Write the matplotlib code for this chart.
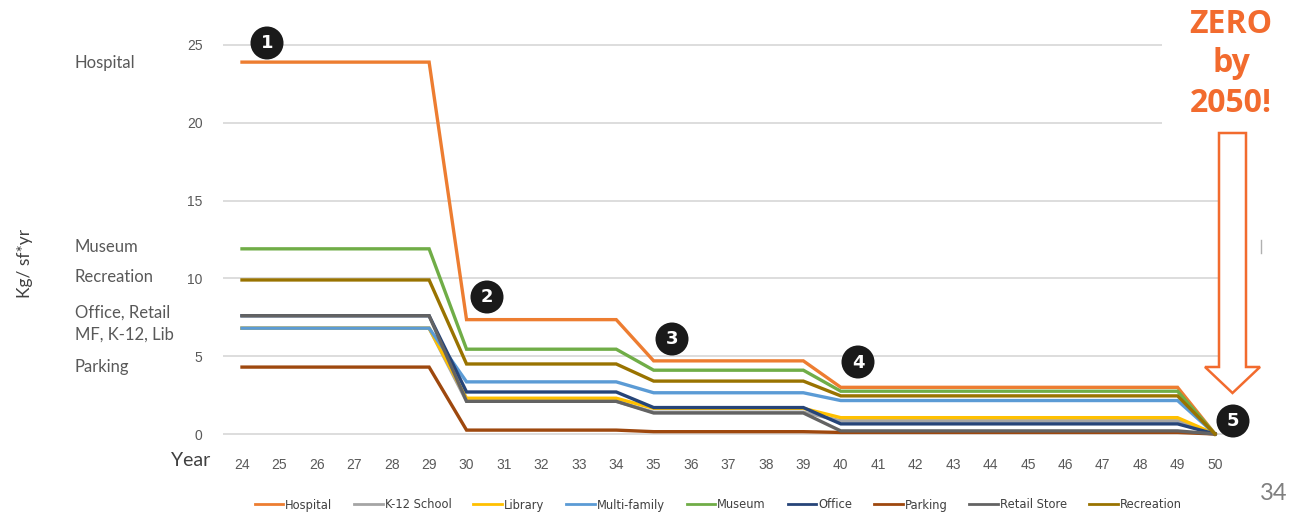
import matplotlib
matplotlib.use("Agg")
import matplotlib.pyplot as plt
from matplotlib.patches import Polygon, Rectangle, Circle
from matplotlib.lines import Line2D

# ---- data -------------------------------------------------------------
years = list(range(24, 51))
year_labels = [str(y) for y in years]

hospital = [23.9, 23.9, 23.9, 23.9, 23.9, 23.9,
            7.35, 7.35, 7.35, 7.35, 7.35,
            4.7, 4.7, 4.7, 4.7, 4.7,
            3.0, 3.0, 3.0, 3.0, 3.0, 3.0, 3.0, 3.0, 3.0, 3.0,
            0.0]
k12_school = [6.8, 6.8, 6.8, 6.8, 6.8, 6.8,
              2.1, 2.1, 2.1, 2.1, 2.1,
              1.4, 1.4, 1.4, 1.4, 1.4,
              0.85, 0.85, 0.85, 0.85, 0.85, 0.85, 0.85, 0.85, 0.85, 0.85,
              0.0]
library = [6.8, 6.8, 6.8, 6.8, 6.8, 6.8,
           2.3, 2.3, 2.3, 2.3, 2.3,
           1.65, 1.65, 1.65, 1.65, 1.65,
           1.05, 1.05, 1.05, 1.05, 1.05, 1.05, 1.05, 1.05, 1.05, 1.05,
           0.0]
multi_family = [6.8, 6.8, 6.8, 6.8, 6.8, 6.8,
                3.35, 3.35, 3.35, 3.35, 3.35,
                2.65, 2.65, 2.65, 2.65, 2.65,
                2.15, 2.15, 2.15, 2.15, 2.15, 2.15, 2.15, 2.15, 2.15, 2.15,
                0.0]
museum = [11.9, 11.9, 11.9, 11.9, 11.9, 11.9,
          5.45, 5.45, 5.45, 5.45, 5.45,
          4.1, 4.1, 4.1, 4.1, 4.1,
          2.75, 2.75, 2.75, 2.75, 2.75, 2.75, 2.75, 2.75, 2.75, 2.75,
          0.0]
office = [7.6, 7.6, 7.6, 7.6, 7.6, 7.6,
          2.7, 2.7, 2.7, 2.7, 2.7,
          1.7, 1.7, 1.7, 1.7, 1.7,
          0.65, 0.65, 0.65, 0.65, 0.65, 0.65, 0.65, 0.65, 0.65, 0.65,
          0.0]
parking = [4.3, 4.3, 4.3, 4.3, 4.3, 4.3,
           0.25, 0.25, 0.25, 0.25, 0.25,
           0.15, 0.15, 0.15, 0.15, 0.15,
           0.1, 0.1, 0.1, 0.1, 0.1, 0.1, 0.1, 0.1, 0.1, 0.1,
           0.0]
retail_store = [7.6, 7.6, 7.6, 7.6, 7.6, 7.6,
                2.1, 2.1, 2.1, 2.1, 2.1,
                1.35, 1.35, 1.35, 1.35, 1.35,
                0.2, 0.2, 0.2, 0.2, 0.2, 0.2, 0.2, 0.2, 0.2, 0.2,
                0.0]
recreation = [9.9, 9.9, 9.9, 9.9, 9.9, 9.9,
              4.5, 4.5, 4.5, 4.5, 4.5,
              3.4, 3.4, 3.4, 3.4, 3.4,
              2.45, 2.45, 2.45, 2.45, 2.45, 2.45, 2.45, 2.45, 2.45, 2.45,
              0.0]

series_names = ["Hospital", "K-12 School", "Library", "Multi-family", "Museum",
                "Office", "Parking", "Retail Store", "Recreation"]
series_values = [hospital, k12_school, library, multi_family, museum,
                 office, parking, retail_store, recreation]
series_colors = ["#ED7D31", "#A5A5A5", "#FFC000", "#5B9BD5", "#70AD47",
                 "#264478", "#9E480E", "#636363", "#997300"]

y_ticks = [0, 5, 10, 15, 20, 25]

side_labels = ["Hospital", "Museum", "Recreation", "Office, Retail",
               "MF, K-12, Lib", "Parking"]
step_numbers = ["1", "2", "3", "4", "5"]

# ---- figure -----------------------------------------------------------
W, H = 1291, 512
fig = plt.figure(figsize=(W / 100, H / 100), dpi=100)
fig.patch.set_facecolor("white")

# plot area: 24 -> x=242px, 50 -> x=1215px ; 0 -> y=434px, 25 -> y=45px
px_per_year = (1215 - 242) / 26
px_per_unit = (434 - 45) / 25
x0, x1 = 23.5, 50.5
y0, y1 = -0.5, 25.5
left_px = 242 - (24 - x0) * px_per_year
right_px = 1215 + (x1 - 50) * px_per_year
bottom_px = 434 + (0 - y0) * px_per_unit
top_px = 45 - (y1 - 25) * px_per_unit
ax = fig.add_axes([left_px / W, 1 - bottom_px / H,
                   (right_px - left_px) / W, (bottom_px - top_px) / H])

for name, vals, col in zip(series_names, series_values, series_colors):
    ax.plot(years, vals, color=col, lw=2.4, label=name,
            solid_joinstyle="miter", zorder=3)

ax.set_xlim(x0, x1)
ax.set_ylim(y0, y1)
ax.set_xticks(years)
ax.set_xticklabels(year_labels)
ax.set_yticks(y_ticks)
ax.set_yticklabels([str(t) for t in y_ticks])
ax.tick_params(axis="both", length=0, colors="#595959")
ax.tick_params(axis="x", labelsize=10, pad=12)
ax.tick_params(axis="y", labelsize=10, pad=15)
for lab in ax.get_xticklabels() + ax.get_yticklabels():
    lab.set_fontfamily("Liberation Sans")
for t in y_ticks:
    ax.axhline(t, color="#DADADA", lw=1.3, zorder=1)
for s in ax.spines.values():
    s.set_visible(False)
ax.patch.set_alpha(0)

# ---- overlay in pixel coordinates for annotations ----------------------
ov = fig.add_axes([0, 0, 1, 1], zorder=5)
ov.set_xlim(0, W)
ov.set_ylim(H, 0)
ov.axis("off")

orange = "#F26B2E"
text_gray = "#595959"

# side category labels
side_y = [63, 247, 277, 313, 335, 367]
for lab, yy in zip(side_labels, side_y):
    ov.text(75, yy, lab, fontsize=12, family="Lato", color=text_gray,
            ha="left", va="center")

ov.text(25, 263, "Kg/ sf*yr", fontsize=12.5, family="Lato", color="#404040",
        rotation=90, ha="center", va="center")
ov.text(191, 460, "Year", fontsize=14, family="Lato", color="#404040",
        ha="center", va="center")

# numbered step markers
step_xy = [(267, 43), (487, 297), (672, 339), (858, 362), (1233, 421)]
for num, (cx, cy) in zip(step_numbers, step_xy):
    ov.add_patch(Circle((cx, cy), 16.5, facecolor="#1A1A1A", edgecolor="none"))
    ov.text(cx, cy + 0.5, num, fontsize=13, fontweight="bold", color="white",
            family="DejaVu Sans", ha="center", va="center")

# headline box and arrow
ov.add_patch(Rectangle((1162, 0), W - 1162, 128, facecolor="white",
                       edgecolor="none"))
for txt, base in [("ZERO", 33), ("by", 72), ("2050!", 112)]:
    ov.text(1231, base, txt, fontsize=23, fontweight="bold", color=orange,
            family="Open Sans", ha="center", va="baseline")
arrow = [(1219, 133), (1246, 133), (1246, 367), (1260, 367), (1232.5, 393),
         (1205, 367), (1219, 367)]
ov.add_patch(Polygon(arrow, closed=True, facecolor="white", edgecolor=orange,
                     lw=1.8, joinstyle="miter"))

ov.add_line(Line2D([1261, 1261], [240, 253], color="#B0B0B0", lw=1))

ov.text(1274, 494, "34", fontsize=17, family="Lato", color="#7F7F7F",
        ha="center", va="center")

# legend along the bottom
handles = [Line2D([0], [0], color=c, lw=2) for c in series_colors]
leg = fig.legend(handles, series_names, loc="center",
                 bbox_to_anchor=(718 / W, 1 - 505 / H), ncol=9, frameon=False,
                 prop={"family": "DejaVu Sans", "size": 8.3},
                 handlelength=2.5, handletextpad=0.15, columnspacing=1.9,
                 borderaxespad=0, borderpad=0)
for t in leg.get_texts():
    t.set_color("#404040")

fig.savefig("out.png", dpi=100, facecolor="white")
